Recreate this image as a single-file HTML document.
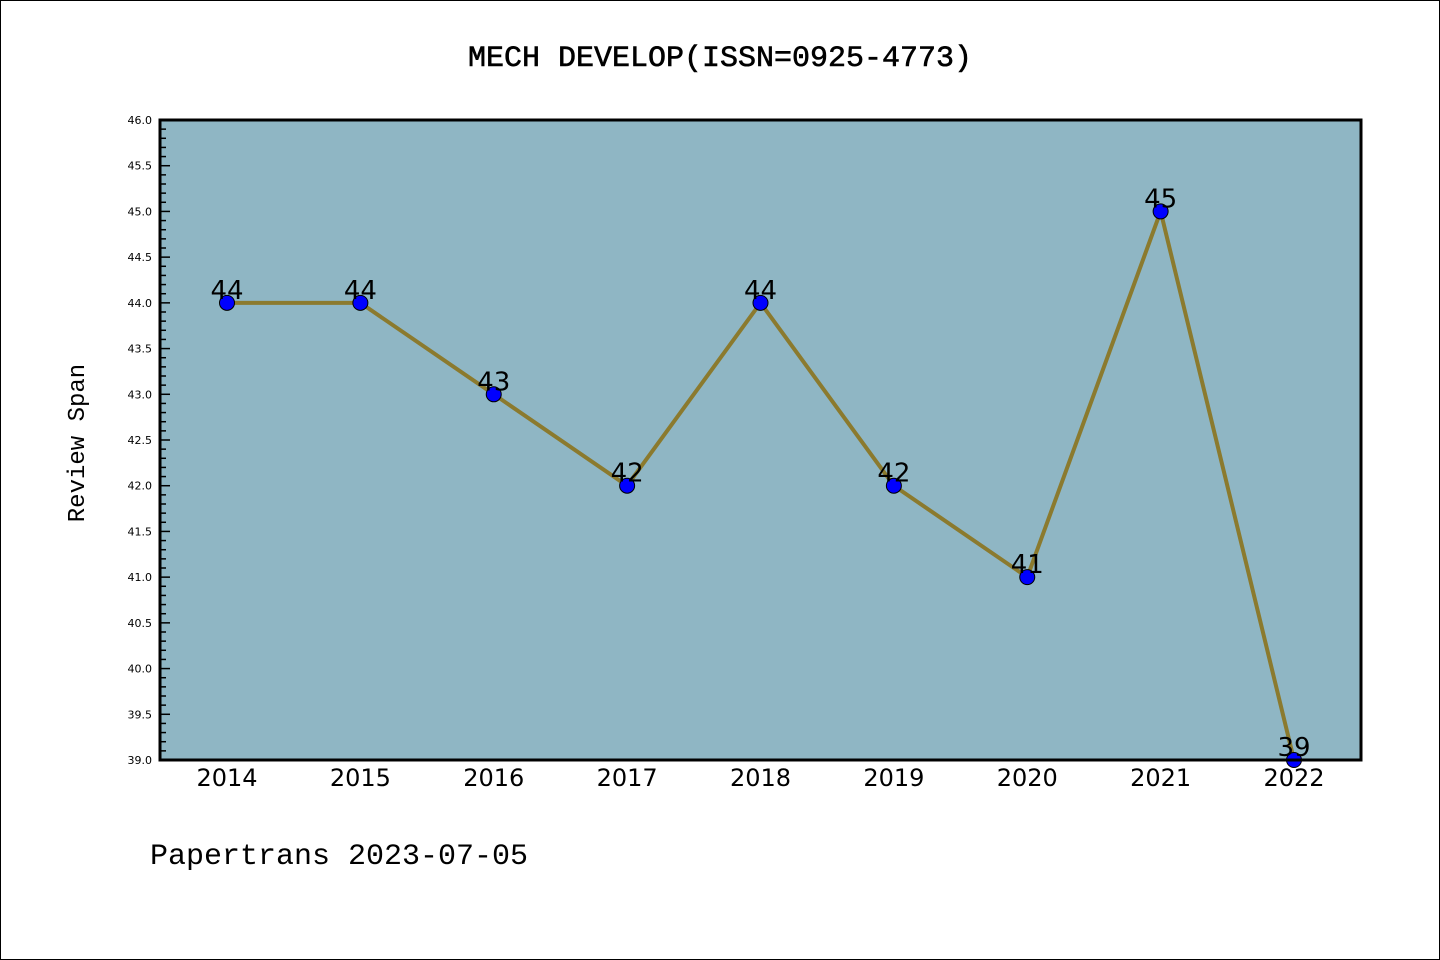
<!DOCTYPE html>
<html><head><meta charset="utf-8"><style>
html,body{margin:0;padding:0;background:#fff;}
svg{display:block;font-family:"Liberation Mono","DejaVu Sans Mono",monospace;}
</style></head><body>
<svg id="chart" width="1440" height="960">
<rect x="0.5" y="0.5" width="1439" height="959" fill="#fff" stroke="#000"/>
<text x="720" y="66" text-anchor="middle" font-size="30" stroke="#000" stroke-width="0.6">MECH DEVELOP(ISSN=0925-4773)</text>
<rect x="160" y="120" width="1201" height="640" fill="#8fb6c4"/>
<g id="yticks"></g><g id="xticks"></g><g id="series"></g>
<rect x="160" y="120" width="1201" height="640" fill="none" stroke="#000" stroke-width="3"/>
<text transform="translate(84,443) rotate(-90)" text-anchor="middle" font-size="24">Review Span</text>
<text x="150" y="864" font-size="30">Papertrans 2023-07-05</text>
</svg>
<script>
const years = ["2014","2015","2016","2017","2018","2019","2020","2021","2022"];
const spans = [44,44,43,42,44,42,41,45,39];
const yTickLabels = ["39.0","39.5","40.0","40.5","41.0","41.5","42.0","42.5","43.0","43.5","44.0","44.5","45.0","45.5","46.0"];
const NS="http://www.w3.org/2000/svg";
const yMin=39,yMax=46,plotTop=120,plotBot=760;
function yScale(v){return plotBot-(v-yMin)/(yMax-yMin)*(plotBot-plotTop);}
function xScale(i){return 227+i*(1294-227)/(years.length-1);}
function mk(t,a,p){const e=document.createElementNS(NS,t);for(const k in a)e.setAttribute(k,a[k]);p.appendChild(e);return e;}
const yt=document.getElementById('yticks');
for(let k=0;k<=70;k++){const v=yMin+k*0.1;const major=k%5===0;
 const l=mk('line',{x1:160,x2:160+(major?10:6),y1:yScale(v),y2:yScale(v),stroke:'#000','stroke-width':1.5},yt);
 
 }
yTickLabels.forEach(s=>{const t=mk('text',{x:152,y:yScale(parseFloat(s))+4,'text-anchor':'end','font-size':11,'font-family':'DejaVu Sans,sans-serif'},yt);t.textContent=s;
 
 });
const xt=document.getElementById('xticks');
years.forEach((yr,i)=>{const t=mk('text',{x:xScale(i),y:786,'text-anchor':'middle','font-size':24,'font-family':'DejaVu Sans,sans-serif'},xt);t.textContent=yr;
 
 });
const g=document.getElementById('series');
const pl=mk('polyline',{points:spans.map((v,i)=>xScale(i)+','+yScale(v)).join(' '),fill:'none',stroke:'#8b7a2e','stroke-width':4},g);


spans.forEach((v,i)=>{const c=mk('circle',{cx:xScale(i),cy:yScale(v),r:7.5,fill:'#0000ff',stroke:'#000','stroke-width':1},g);
 
 
 const t=mk('text',{x:xScale(i),y:yScale(v)-4,'text-anchor':'middle','font-size':26,'font-family':'DejaVu Sans,sans-serif'},g);t.textContent=v;
 
 });
</script>
</body></html>
